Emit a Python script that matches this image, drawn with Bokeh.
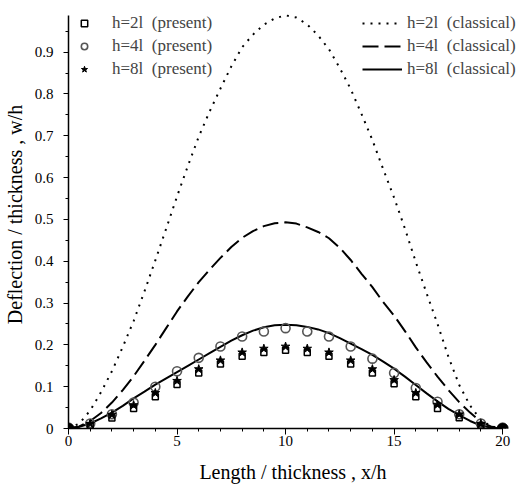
from bokeh.plotting import figure
from bokeh.models import Legend, LegendItem, FixedTicker, Range1d, CustomJSTickFormatter
from bokeh.embed import file_html
from bokeh.resources import INLINE

# ---- data ----
x_line = [i * 0.5 for i in range(41)]
classical_h2l = [0, 0.012, 0.043, 0.087, 0.137, 0.195, 0.257, 0.328, 0.402, 0.478,
                 0.555, 0.628, 0.698, 0.758, 0.813, 0.866, 0.912, 0.942, 0.966, 0.981,
                 0.988, 0.983, 0.966, 0.940, 0.907, 0.862, 0.812, 0.752, 0.690, 0.620,
                 0.552, 0.478, 0.398, 0.323, 0.250, 0.172, 0.104, 0.055, 0.020, 0.005, 0]
classical_h4l = [0, 0.005, 0.018, 0.037, 0.062, 0.092, 0.125, 0.162, 0.200, 0.240,
                 0.280, 0.316, 0.350, 0.380, 0.408, 0.434, 0.456, 0.472, 0.484, 0.491,
                 0.493, 0.490, 0.481, 0.470, 0.455, 0.432, 0.403, 0.370, 0.338, 0.302,
                 0.270, 0.233, 0.194, 0.158, 0.124, 0.092, 0.063, 0.038, 0.016, 0.004, 0]
classical_h8l = [0, 0.004, 0.012, 0.024, 0.038, 0.054, 0.072, 0.088, 0.105, 0.120,
                 0.135, 0.150, 0.165, 0.180, 0.195, 0.210, 0.223, 0.234, 0.242, 0.247,
                 0.248, 0.247, 0.243, 0.237, 0.228, 0.216, 0.203, 0.190, 0.176, 0.160,
                 0.143, 0.124, 0.104, 0.084, 0.065, 0.047, 0.032, 0.018, 0.007, 0.002, 0]

x_pts = list(range(21))
present_h2l = [0, 0.007, 0.025, 0.048, 0.076, 0.105, 0.133, 0.154, 0.173, 0.182, 0.187,
               0.182, 0.173, 0.154, 0.133, 0.107, 0.076, 0.048, 0.026, 0.007, 0]
present_h4l = [0, 0.012, 0.034, 0.062, 0.100, 0.137, 0.169, 0.196, 0.220, 0.232, 0.240,
               0.232, 0.220, 0.196, 0.167, 0.133, 0.097, 0.064, 0.034, 0.012, 0]
present_h8l = [0, 0.011, 0.033, 0.056, 0.085, 0.114, 0.142, 0.163, 0.182, 0.191, 0.196,
               0.191, 0.182, 0.163, 0.142, 0.116, 0.085, 0.057, 0.034, 0.011, 0]

x_ticks = [0, 5, 10, 15, 20]
y_ticks = [0, 0.1, 0.2, 0.3, 0.4, 0.5, 0.6, 0.7, 0.8, 0.9]
x_axis_span = (0, 20)
y_axis_span = (0, 0.988)

labels_present = ["h=2l\u00a0\u00a0(present)", "h=4l\u00a0\u00a0(present)", "h=8l\u00a0\u00a0(present)"]
labels_classical = ["h=2l\u00a0\u00a0(classical)", "h=4l\u00a0\u00a0(classical)", "h=8l\u00a0\u00a0(classical)"]

FONT = "Liberation Serif"

# frame reaches the right/top window edge so the legends are not clipped;
# the axes themselves are bounded to the data span
p = figure(width=517, height=485, output_backend="svg", toolbar_location=None,
           x_range=Range1d(0, 20.685), y_range=Range1d(0, 1.0236),
           min_border_left=64, min_border_right=0, min_border_top=0, min_border_bottom=54)
p.grid.visible = False
p.outline_line_color = None
p.background_fill_color = "white"
p.border_fill_color = "white"

# classical lines
r_c2 = p.line(x_line, classical_h2l, line_color="black", line_width=2, line_dash="2 6")
r_c4 = p.line(x_line, classical_h4l, line_color="black", line_width=2, line_dash="16 6")
r_c8 = p.line(x_line, classical_h8l, line_color="black", line_width=2)

# present points
r_p4 = p.scatter(x_pts, present_h4l, marker="circle", size=9, fill_color=None,
                 line_color="#555555", line_width=1.6)
r_p2 = p.scatter(x_pts, present_h2l, marker="square", size=6, fill_color=None,
                 line_color="black", line_width=1.5)
r_p8 = p.scatter(x_pts, present_h8l, marker="star", size=9, fill_color="black",
                 line_color="black")

# end blobs
p.scatter([x_pts[0], x_pts[-1]], [present_h2l[0], present_h2l[-1]], marker="circle",
          size=11, fill_color="black", line_color="black")

# axes
for ax in (p.xaxis[0], p.yaxis[0]):
    ax.axis_line_width = 1.5
    ax.axis_line_color = "black"
    ax.major_tick_line_color = "black"
    ax.minor_tick_line_color = "black"
    ax.major_tick_in = 0
    ax.minor_tick_in = 0
    ax.major_label_text_font = FONT
    ax.major_label_text_font_size = "15px"
    ax.major_label_text_color = "black"
    ax.axis_label_text_font = FONT
    ax.axis_label_text_font_size = "20px"
    ax.axis_label_text_font_style = "normal"
    ax.axis_label_text_color = "black"

p.xaxis.bounds = x_axis_span
p.xaxis.ticker = FixedTicker(ticks=x_ticks, minor_ticks=x_pts)
p.xaxis.major_tick_out = 6
p.xaxis.minor_tick_out = 3
p.xaxis.major_label_standoff = 1
p.xaxis.axis_label = "Length / thickness , x/h"
p.xaxis.axis_label_standoff = 12

p.yaxis.bounds = y_axis_span
p.yaxis.ticker = FixedTicker(ticks=y_ticks, minor_ticks=[round(0.05 * i, 2) for i in range(20)])
p.yaxis.formatter = CustomJSTickFormatter(code="return tick == 0 ? '0' : tick.toFixed(1);")
p.yaxis.major_tick_out = 5
p.yaxis.minor_tick_out = 3
p.yaxis.major_label_standoff = 10
p.yaxis.axis_label = "Deflection / thickness , w/h"
p.yaxis.axis_label_standoff = 6

leg1 = Legend(items=[LegendItem(label=labels_present[0], renderers=[r_p2]),
                     LegendItem(label=labels_present[1], renderers=[r_p4]),
                     LegendItem(label=labels_present[2], renderers=[r_p8])],
              location=(8, 349), glyph_width=16, glyph_height=20, label_height=20,
              label_standoff=20, spacing=3, padding=0, margin=0,
              border_line_color=None, background_fill_alpha=0,
              label_text_font=FONT, label_text_font_size="17px")
leg2 = Legend(items=[LegendItem(label=labels_classical[0], renderers=[r_c2]),
                     LegendItem(label=labels_classical[1], renderers=[r_c4]),
                     LegendItem(label=labels_classical[2], renderers=[r_c8])],
              location=(294, 349), glyph_width=40, glyph_height=20, label_height=20,
              label_standoff=5, spacing=3, padding=0, margin=0,
              border_line_color=None, background_fill_alpha=0,
              label_text_font=FONT, label_text_font_size="17px")
p.add_layout(leg1)
p.add_layout(leg2)

open("out.html", "w").write(file_html(p, INLINE))
